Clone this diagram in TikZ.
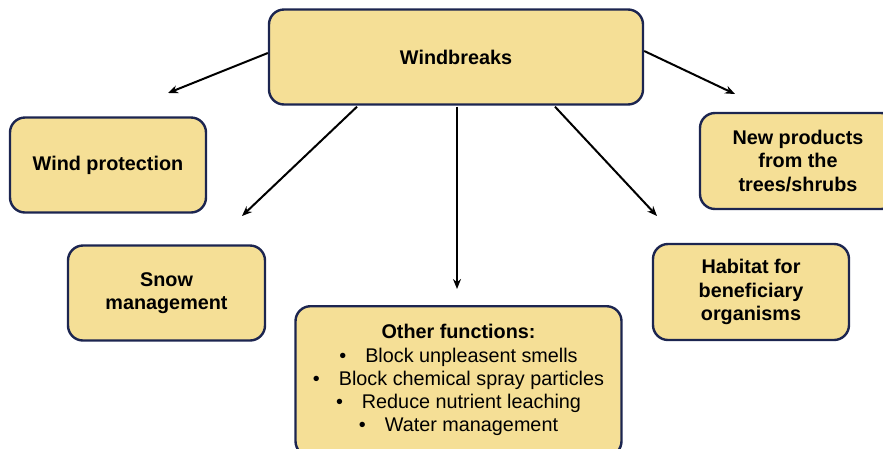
\documentclass[tikz,border=0pt]{standalone}
\usepackage{fontspec}
\setmainfont{Liberation Sans}
\usetikzlibrary{calc,arrows.meta}
\definecolor{boxfill}{HTML}{F5DF96}
\definecolor{boxline}{HTML}{1C2550}
\begin{document}
\begin{tikzpicture}[x=1pt,y=-1pt,
  box/.style={draw=boxline, fill=boxfill, line width=2.4pt, rounded corners=15pt,
    minimum width=#1, align=center, inner sep=0pt, font=\fontsize{19.8}{23.3}\selectfont\bfseries},
  arr/.style={-{Stealth[length=10pt,width=8pt]}, line width=2pt, black}]
\useasboundingbox (0,0) rectangle (883,448);
\node[box=374pt, minimum height=95pt] (wb) at (456,57) {Windbreaks};
\node[box=196pt, minimum height=95pt] (wp) at (108,165) {Wind protection};
\node[box=197pt, minimum height=95pt] (sm) at (166.5,293) {Snow\\management};
\node[box=326pt, minimum height=150pt, anchor=north] (of) at (458.5,305) {};
\node[align=center, font=\fontsize{19.8}{23.2}\selectfont, anchor=north] (oft) at (458.5,321)
  {\textbf{Other functions:}\\
   \textbullet\hspace{19pt}Block unpleasent smells\\
   \textbullet\hspace{19pt}Block chemical spray particles\\
   \textbullet\hspace{19pt}Reduce nutrient leaching\\
   \textbullet\hspace{19pt}Water management};
\node[box=196pt, minimum height=96pt] (np) at (798,161) {New products\\from the\\trees/shrubs};
\node[box=196pt, minimum height=96pt] (hb) at (751,292) {Habitat for\\beneficiary\\organisms};
\coordinate (e1) at (168,93);
\coordinate (e2) at (242,216);
\coordinate (e3) at (457,289);
\coordinate (e4) at (657,216);
\coordinate (e5) at (735,94);
\draw[arr] ($(wb.west)+(0,-4)$) -- (e1);
\draw[arr] ($(wb.south)+(-99,1)$) -- (e2);
\draw[arr] ($(wb.south)+(1,1)$) -- (e3);
\draw[arr] ($(wb.south)+(99,1)$) -- (e4);
\draw[arr] ($(wb.east)+(0,-6)$) -- (e5);
\end{tikzpicture}
\end{document}
